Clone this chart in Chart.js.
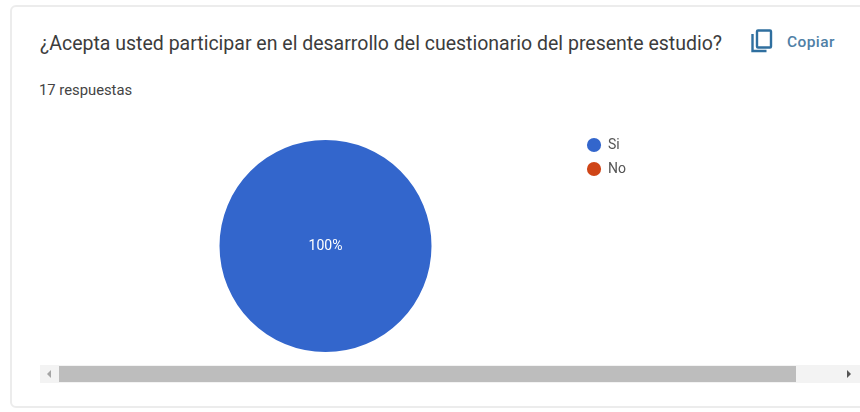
<!DOCTYPE html>
<html lang="es">
<head>
<meta charset="utf-8">
<title>Respuestas</title>
<script src="https://cdn.jsdelivr.net/npm/chart.js@4/dist/chart.umd.min.js"></script>
<style>
  html, body { margin: 0; padding: 0; background: #fff; }
  body { width: 860px; height: 412px; position: relative; overflow: hidden; font-family: Roboto, sans-serif; }
  #card { position: absolute; left: 10px; top: 5px; width: 860px; height: 403px; box-sizing: border-box;
          border: 2px solid #ececec; border-radius: 6px; }
  #question { position: absolute; left: 40px; top: 32px; font-size: 19.5px; line-height: 24px; color: #3c3c3c; white-space: nowrap; }
  #count { position: absolute; left: 39px; top: 82px; font-size: 14.8px; line-height: 16px; color: #444; white-space: nowrap; }
  #copyIcon { position: absolute; left: 750px; top: 28px; }
  #copy { position: absolute; left: 787px; top: 32px; font-size: 15.5px; line-height: 20px; font-weight: 500; color: #4f7fa6; letter-spacing: .4px; }
  #chartBox { position: absolute; left: 64px; top: 128px; width: 572px; height: 236px; }
  #track { position: absolute; left: 40px; top: 365px; width: 820px; height: 18px; background: #f3f3f3; }
  #thumb { position: absolute; left: 59px; top: 366px; width: 737px; height: 16px; background: #bdbdbd; }
  .arrow { position: absolute; top: 370px; width: 0; height: 0; border-top: 4px solid transparent; border-bottom: 4px solid transparent; }
  #arrowLeft { left: 47px; border-right: 4px solid #a5a5a5; }
  #arrowRight { left: 847px; border-left: 4px solid #555; }
</style>
</head>
<body>
<div id="card"></div>
<div id="question">¿Acepta usted participar en el desarrollo del cuestionario del presente estudio?</div>
<div id="count">17 respuestas</div>
<svg id="copyIcon" width="24" height="26" viewBox="0 0 24 26" fill="none" stroke="#2f6f9f" stroke-width="2.4">
  <rect x="7" y="2.5" width="14" height="17" rx="1"></rect>
  <path d="M2.5 6v17h14"></path>
</svg>
<div id="copy">Copiar</div>
<div id="chartBox"><canvas id="pie"></canvas></div>
<div id="track"></div>
<div id="thumb"></div>
<div id="arrowLeft" class="arrow"></div>
<div id="arrowRight" class="arrow"></div>

<script>
const categories = ["Si", "No"];
const responses = [17, 0];
const sliceColors = ["#3366cc", "#cf4517"];

// Writes each non-empty slice's share in the middle of the pie.
const shareLabels = {
  id: "shareLabels",
  afterDatasetsDraw(chart) {
    const meta = chart.getDatasetMeta(0);
    const values = chart.data.datasets[0].data;
    const total = values.reduce((a, b) => a + b, 0);
    const { ctx } = chart;
    ctx.save();
    ctx.fillStyle = "#ffffff";
    ctx.font = "14px Roboto, sans-serif";
    ctx.textAlign = "center";
    ctx.textBaseline = "middle";
    values.forEach((v, i) => {
      if (!v) return;
      const arc = meta.data[i];
      const share = v / total;
      const p = share === 1 ? { x: arc.x, y: arc.y } : arc.tooltipPosition();
      ctx.fillText(Math.round(share * 100) + "%", p.x, p.y);
    });
    ctx.restore();
  }
};

new Chart(document.getElementById("pie"), {
  type: "pie",
  data: {
    labels: categories,
    datasets: [{ data: responses, backgroundColor: sliceColors, borderWidth: 0, radius: 106 }]
  },
  options: {
    responsive: true,
    maintainAspectRatio: false,
    animation: false,
    layout: { padding: { left: 10 } },
    plugins: {
      tooltip: { enabled: false },
      legend: {
        position: "right",
        align: "start",
        labels: {
          usePointStyle: true,
          pointStyle: "circle",
          boxHeight: 10,
          padding: 10,
          color: "#555",
          font: { family: "Roboto, sans-serif", size: 14 }
        }
      }
    }
  },
  plugins: [shareLabels]
});
</script>
</body>
</html>
